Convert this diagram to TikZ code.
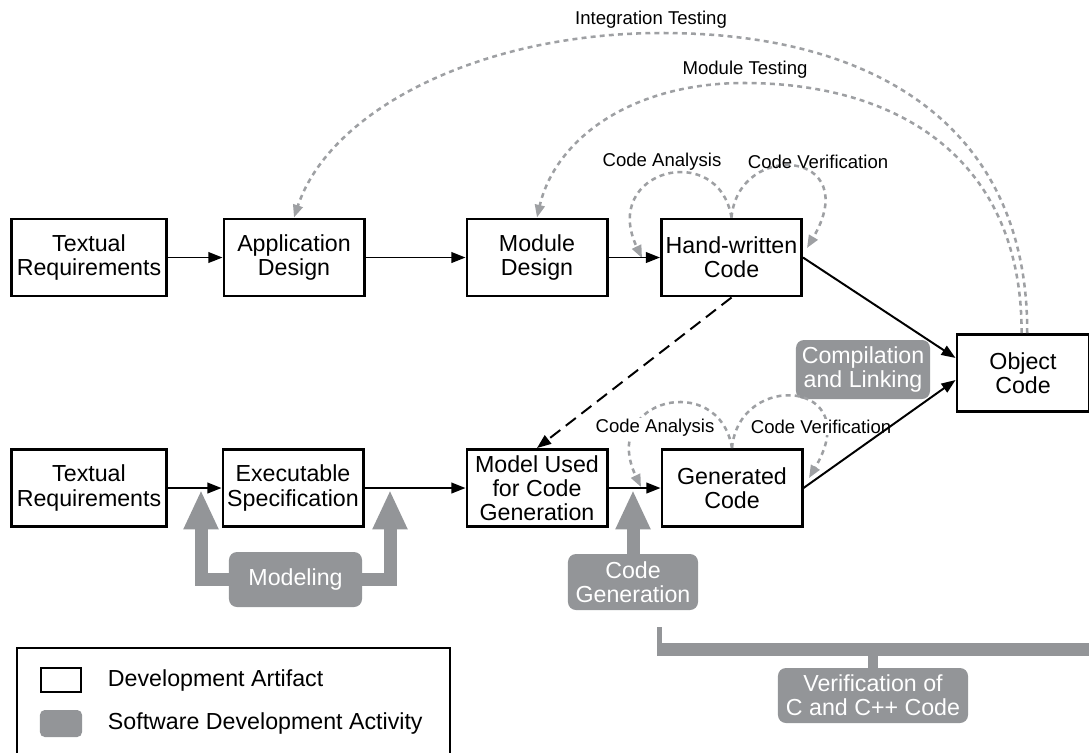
\documentclass[tikz,border=0pt]{standalone}
\usepackage{fontspec}
\setmainfont{Liberation Sans}
\usepackage{tikz}
\usetikzlibrary{arrows.meta}

\definecolor{actgray}{RGB}{147,149,152}
\definecolor{arcgray}{RGB}{158,160,163}
\newcommand\boxfont{\fontsize{16.5}{17.2}\selectfont}
\newcommand\notefont{\fontsize{13.2}{15}\selectfont}

\begin{document}
\begin{tikzpicture}[x=0.025cm, y=-0.025cm,
	artifact/.style={draw, line width=2.1pt, fill=white, minimum width=3.5cm, minimum height=1.925cm, inner sep=0pt, align=center, font=\boxfont},
	activity/.style={fill=actgray, text=white, rounded corners=0.2cm, inner sep=0pt, align=center, font=\boxfont},
	flow/.style={line width=1.4pt, -{Triangle[length=10pt,width=7.5pt]}},
	checkarc/.style={arcgray, line width=1.8pt, dash pattern=on 3.5pt off 3pt, -{Triangle[length=9pt,width=7pt]}},
	bigarrow/.style={actgray, line width=0.325cm, -{Triangle[length=28pt,width=23pt]}},
	note/.style={font=\notefont, inner sep=1pt}]
	\useasboundingbox (0,0) rectangle (1089,752);

	% Top row: hand-written code
	\node[artifact, minimum width=3.875cm] (treqA) at (89,257.5) {Textual\\Requirements};
	\node[artifact] (appdes) at (294,257.5) {Application\\Design};
	\node[artifact] (moddes) at (537,257.5) {Module\\Design};
	\node[artifact] (hwcode) at (731.5,257.5) {Hand-written\\Code};
	\node[artifact, minimum width=3.3cm] (objcode) at (1023,373) {Object\\Code};

	% Bottom row: model based
	\node[artifact, minimum width=3.875cm] (treqB) at (89,488) {Textual\\Requirements};
	\node[artifact] (execspec) at (293,488) {Executable\\Specification};
	\node[artifact] (modelused) at (537,488) {Model Used\\for Code\\Generation};
	\node[artifact] (gencode) at (732,488) {Generated\\Code};

	% Activities
	\node[activity, minimum width=3.325cm, minimum height=1.375cm] (modeling) at (295.5,579.5) {Modeling};
	\node[activity, minimum width=3.25cm, minimum height=1.4cm] (codegen) at (633,582) {Code\\Generation};
	\node[activity, minimum width=3.35cm, minimum height=1.475cm] (compil) at (863,369.5) {Compilation\\and Linking};
	\node[activity, minimum width=4.75cm, minimum height=1.375cm] (verif) at (873,695.5) {Verification of\\C and C++ Code};

	% Thick activity arrows
	\draw[bigarrow] (modeling.west) -- (201,579.5) -- (201,490);
	\draw[bigarrow] (modeling.east) -- (390,579.5) -- (390,490);
	\draw[bigarrow] (codegen.north) -- (633,490);

	% Verification bracket
	\coordinate (brL) at (657,649);
	\coordinate (brM) at (873,649);
	\coordinate (brR) at (1100,649);
	\draw[actgray, line width=0.325cm] (brL) -- (brR);
	\draw[actgray, line width=0.125cm] (659.5,627) -- (659.5,650);
	\draw[actgray, line width=0.25cm] (brM) -- (verif.north);

	% Code analysis and verification loops
	\coordinate (caTop) at (642,258);
	\coordinate (cvTop) at (807,248);
	\coordinate (caBot) at (641,487);
	\coordinate (cvBot) at (809,478);
	\draw[checkarc] (hwcode.north) .. controls +(-13,-78) and +(-42,-88) .. (caTop);
	\draw[checkarc] (hwcode.north) .. controls +(7,-78) and +(58,-98) .. (cvTop);
	\draw[checkarc] (gencode.north) .. controls +(-13,-78) and +(-42,-88) .. (caBot);
	\draw[checkarc] (gencode.north) .. controls +(7,-78) and +(58,-98) .. (cvBot);

	% Testing arcs
	\draw[checkarc] ([xshift=3pt]objcode.north) .. controls (1028,130) and (880,33) .. (662,33)
		.. controls (480,33) and (330,110) .. (appdes.north);
	\draw[checkarc] ([xshift=-1pt]objcode.north) .. controls (1022,160) and (900,83) .. (744,83)
		.. controls (630,83) and (555,140) .. (moddes.north);

	% Labels
	\node[note] (intlbl) at (651,20) {Integration Testing};
	\node[note] (modlbl) at (745,70) {Module Testing};
	\node[note] (caTopLbl) at (662,162) {Code Analysis};
	\node[note] (cvTopLbl) at (818,162) {Code Verification};
	\node[note, fill=white] (caBotLbl) at (655,428) {Code Analysis};
	\node[note, fill=white] (cvBotLbl) at (821,427) {Code Verification};

	% Flow arrows
	\draw[flow] (treqA) -- (appdes);
	\draw[flow] (appdes) -- (moddes);
	\draw[flow] (moddes) -- (hwcode);
	\draw[flow] (treqB) -- (execspec);
	\draw[flow] (execspec) -- (modelused);
	\draw[flow] (modelused) -- (gencode);
	\draw[flow] (hwcode.east) -- ([yshift=10.7pt]objcode.west);
	\draw[flow] (gencode.east) -- ([yshift=-5pt]objcode.west);
	\draw[flow, dash pattern=on 9pt off 5pt] (hwcode.south) -- (modelused.north);

	% Legend
	\draw[line width=1pt] (17,648) rectangle (450,775);
	\node[draw, line width=1.4pt, minimum width=1cm, minimum height=0.6cm, inner sep=0pt] (lgart) at (61,680) {};
	\node[anchor=west, font=\boxfont] (lgartTxt) at (103,680) {Development Artifact};
	\node[fill=actgray, rounded corners=0.12cm, minimum width=1.05cm, minimum height=0.675cm, inner sep=0pt] (lgact) at (61,723.5) {};
	\node[anchor=west, font=\boxfont] (lgactTxt) at (103,723.5) {Software Development Activity};

\end{tikzpicture}
\end{document}
